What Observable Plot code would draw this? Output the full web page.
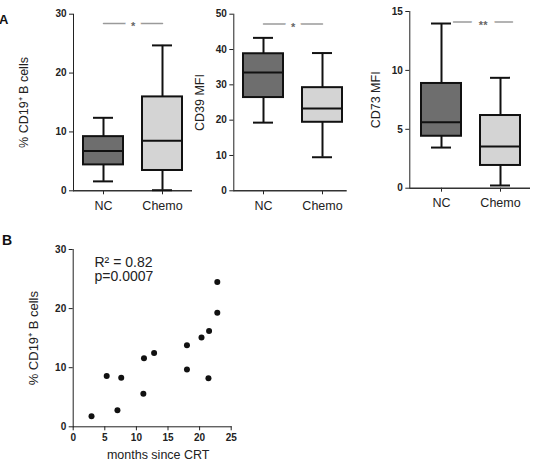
<!DOCTYPE html>
<html>
<head>
<meta charset="utf-8">
<script src="https://cdn.jsdelivr.net/npm/d3@7"></script>
<script src="https://cdn.jsdelivr.net/npm/@observablehq/plot@0.6"></script>
<style>
  body { margin: 0; background: #fff; font-family: "Liberation Sans", Arial, sans-serif; }
  #fig { position: relative; width: 534px; height: 462px; overflow: hidden; }
  #fig > svg, #fig > div { position: absolute; }
  .tag { font-weight: bold; line-height: 1; color: #111; }
  .boxp g[aria-label="y-axis tick label"],
  .scat g[aria-label="y-axis tick label"],
  .scat g[aria-label="x-axis tick label"] { font-weight: bold; font-size: 10px; }
</style>
</head>
<body>
<div id="fig"></div>
<script>
// Groups compared in panel A
const groups = ["NC", "Chemo"];
const groupFill = ["#6e6e6e", "#d4d4d4"];

// % CD19+ B cells: five-number summary per group
const cd19Min = [1.6, 0.1];
const cd19Q1 = [4.4, 3.45];
const cd19Median = [6.75, 8.5];
const cd19Q3 = [9.2, 15.95];
const cd19Max = [12.4, 24.7];
const cd19Ticks = [0, 10, 20, 30];

// CD39 MFI
const cd39Min = [19.3, 9.5];
const cd39Q1 = [26.4, 19.4];
const cd39Median = [33.5, 23.3];
const cd39Q3 = [38.8, 29.2];
const cd39Max = [43.3, 39.0];
const cd39Ticks = [0, 10, 20, 30, 40, 50];

// CD73 MFI
const cd73Min = [3.45, 0.23];
const cd73Q1 = [4.41, 1.93];
const cd73Median = [5.6, 3.54];
const cd73Q3 = [8.89, 6.17];
const cd73Max = [13.98, 9.37];
const cd73Ticks = [0, 5, 10, 15];

// Panel B: B-cell frequency against time since chemoradiotherapy
const monthsSinceCRT = [2.9, 5.3, 7.0, 7.6, 11.1, 11.2, 12.8, 18.0, 18.0, 20.3, 21.5, 21.4, 22.8, 22.8];
const cd19Percent = [1.8, 8.6, 2.8, 8.3, 5.6, 11.6, 12.5, 13.8, 9.7, 15.1, 16.2, 8.2, 24.5, 19.3];
const monthTicks = [0, 5, 10, 15, 20, 25];
const percentTicks = [0, 10, 20, 30];
const fitText = ["R² = 0.82", "p=0.0007"];

const font = '"Liberation Sans", Arial, sans-serif';
const fig = document.getElementById("fig");

function place(node, left, top) {
  node.style.left = left + "px";
  node.style.top = top + "px";
  fig.appendChild(node);
}

function tag(text, left, top, size) {
  const d = document.createElement("div");
  d.className = "tag";
  d.style.fontSize = size + "px";
  d.textContent = text;
  place(d, left, top);
}

const PAD_INNER = 0.33;

function boxPanel(p) {
  const rows = groups.map((g, i) => ({
    group: g, min: p.min[i], q1: p.q1[i], median: p.median[i], q3: p.q3[i], max: p.max[i]
  }));
  const step = (p.boxRight - p.boxLeft) / (groups.length - PAD_INNER);
  const height = 215;
  const svg = Plot.plot({
    className: "boxp",
    width: p.width,
    height,
    marginLeft: p.axisLeft - p.left,
    marginRight: p.left + p.width - p.axisRight,
    marginTop: p.top,
    marginBottom: height - p.bottom,
    style: { background: "transparent", overflow: "visible", fontFamily: font, fontSize: "12.5px", color: "#222" },
    x: {
      type: "band", domain: groups,
      range: [p.boxLeft - p.left, p.boxRight - p.left],
      paddingInner: PAD_INNER, paddingOuter: 0,
      label: null, tickSize: 4, tickPadding: 6
    },
    y: {
      domain: [p.ticks[0], p.ticks[p.ticks.length - 1]],
      ticks: p.ticks, tickSize: 4, tickPadding: 3, line: true, label: null
    },
    color: { domain: groups, range: groupFill },
    marks: [
      Plot.ruleY([0], { stroke: "#333", strokeWidth: 1.5 }),
      // whiskers and caps
      Plot.ruleX(rows, { x: "group", y1: "min", y2: "q1", stroke: "#111", strokeWidth: 2 }),
      Plot.ruleX(rows, { x: "group", y1: "q3", y2: "max", stroke: "#111", strokeWidth: 2 }),
      Plot.tickY(rows, { x: "group", y: "min", insetLeft: 10, insetRight: 10, stroke: "#111", strokeWidth: 2 }),
      Plot.tickY(rows, { x: "group", y: "max", insetLeft: 10, insetRight: 10, stroke: "#111", strokeWidth: 2 }),
      // interquartile box and median
      Plot.barY(rows, { x: "group", y1: "q1", y2: "q3", fill: "group", stroke: "#111", strokeWidth: 2 }),
      Plot.tickY(rows, { x: "group", y: "median", stroke: "#111", strokeWidth: 2 }),
      // significance bar between the groups
      Plot.line(groups, { x: (d) => d, y: () => p.sigY, stroke: "#9a9a9a", strokeWidth: 1.5, dx: p.sigShift }),
      Plot.text([p.sig], {
        x: [groups[0]], y: [p.sigY], text: [p.sig],
        dx: step / 2 + p.sigShift, dy: 3,
        fill: "#666", fontSize: 11, fontWeight: "bold", stroke: "white", strokeWidth: p.sigGap
      }),
      // rotated y-axis title
      Plot.text([p.label], {
        frameAnchor: "left", textAnchor: "middle", lineAnchor: "middle",
        rotate: -90, dx: p.labelX - p.axisLeft,
        fontSize: 12.5, fill: "#222"
      })
    ]
  });
  place(svg, p.left, 0);
}

boxPanel({
  left: 0, width: 195, axisLeft: 73, axisRight: 192, boxLeft: 83, boxRight: 182,
  top: 13.7, bottom: 190.3, ticks: cd19Ticks,
  min: cd19Min, q1: cd19Q1, median: cd19Median, q3: cd19Q3, max: cd19Max,
  sig: "*", sigY: 28.4, sigShift: 0, sigGap: 11,
  label: "% CD19⁺ B cells", labelX: 23
});

boxPanel({
  left: 180, width: 170, axisLeft: 233.3, axisRight: 346.7, boxLeft: 243, boxRight: 342.3,
  top: 13.7, bottom: 190.3, ticks: cd39Ticks,
  min: cd39Min, q1: cd39Q1, median: cd39Median, q3: cd39Q3, max: cd39Max,
  sig: "*", sigY: 47.2, sigShift: 0, sigGap: 11,
  label: "CD39 MFI", labelX: 199
});

boxPanel({
  left: 355, width: 179, axisLeft: 409.3, axisRight: 530, boxLeft: 421, boxRight: 520,
  top: 11, bottom: 187.7, ticks: cd73Ticks,
  min: cd73Min, q1: cd73Q1, median: cd73Median, q3: cd73Q3, max: cd73Max,
  sig: "**", sigY: 14.1, sigShift: 12, sigGap: 14,
  label: "CD73 MFI", labelX: 375
});

// Panel B scatter
{
  const left = 0, top = 235, width = 260, height = 227;
  const svg = Plot.plot({
    className: "scat",
    width, height,
    marginLeft: 72.7, marginRight: width - 230.7,
    marginTop: 249 - top, marginBottom: top + height - 426.3,
    style: { background: "transparent", overflow: "visible", fontFamily: font, fontSize: "13px", color: "#222" },
    x: { domain: [0, 25], ticks: monthTicks, tickSize: 4, tickPadding: 3, line: true, label: null },
    y: { domain: [0, 30], ticks: percentTicks, tickSize: 4, tickPadding: 3, line: true, label: null },
    marks: [
      Plot.dot(monthsSinceCRT, { x: monthsSinceCRT, y: cd19Percent, r: 3, fill: "#111", stroke: null }),
      Plot.text([fitText.join("\n")], {
        frameAnchor: "top-left", textAnchor: "start", lineAnchor: "top", lineHeight: 1,
        dx: 21.3, dy: 7.5, fontSize: 14, fill: "#222"
      }),
      Plot.text(["months since CRT"], {
        frameAnchor: "bottom", textAnchor: "middle", lineAnchor: "middle",
        dx: 6, dy: 28.5, fontSize: 12.5, fill: "#222"
      }),
      Plot.text(["% CD19⁺ B cells"], {
        frameAnchor: "left", textAnchor: "middle", lineAnchor: "middle",
        rotate: -90, dx: 33 - 72.7, fontSize: 13, fill: "#222"
      })
    ]
  });
  place(svg, left, top);
}

tag("A", -1, 13.3, 13);
tag("B", 2, 233, 14);
</script>
</body>
</html>
